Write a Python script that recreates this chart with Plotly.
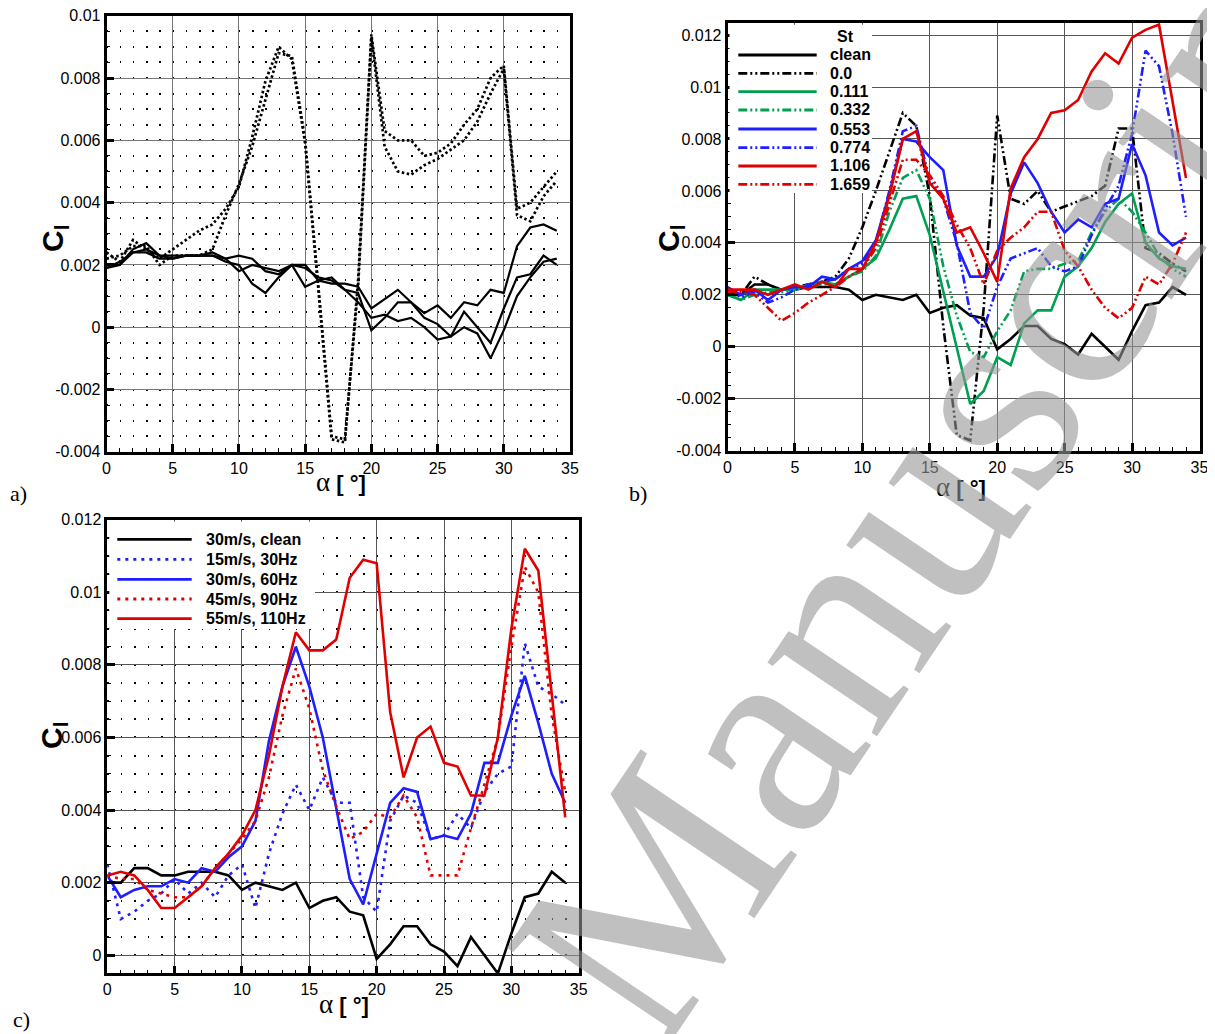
import plotly.graph_objects as go

# ---------------- data ----------------
alpha = [0, 1, 2, 3, 4, 5, 6, 7, 8, 9, 10, 11, 12, 13, 14, 15, 16, 17, 18, 19,
         20, 21, 22, 23, 24, 25, 26, 27, 28, 29, 30, 31, 32, 33, 34]

x_tick_vals = [0, 5, 10, 15, 20, 25, 30, 35]
x_tick_text = ["0", "5", "10", "15", "20", "25", "30", "35"]
ya_tick_vals = [-0.004, -0.002, 0, 0.002, 0.004, 0.006, 0.008, 0.01]
ya_tick_text = ["-0.004", "-0.002", "0", "0.002", "0.004", "0.006", "0.008", "0.01"]
yb_tick_vals = [-0.004, -0.002, 0, 0.002, 0.004, 0.006, 0.008, 0.01, 0.012]
yb_tick_text = ["-0.004", "-0.002", "0", "0.002", "0.004", "0.006", "0.008", "0.01", "0.012"]
yc_tick_vals = [0, 0.002, 0.004, 0.006, 0.008, 0.01, 0.012]
yc_tick_text = ["0", "0.002", "0.004", "0.006", "0.008", "0.01", "0.012"]

# clean airfoil, 30 m/s (same curve in a, b, c)
cl_clean = [0.0020, 0.0020, 0.0024, 0.0024, 0.0022, 0.0022, 0.0023, 0.0023, 0.0023, 0.0022,
            0.0018, 0.0020, 0.0019, 0.0018, 0.0020, 0.0013, 0.0015, 0.0016, 0.0012, 0.0011,
            -0.0001, 0.0003, 0.0008, 0.0008, 0.0003, 0.0001, -0.0003, 0.0005, 0.0000, -0.0005,
            0.0006, 0.0016, 0.0017, 0.0023, 0.0020]

# panel a: other clean runs (solid) and actuated runs (dotted)
a_clean_A = [0.0019, 0.0020, 0.0025, 0.0027, 0.0023, 0.0022, 0.0023, 0.0023, 0.0024, 0.0022,
             0.0023, 0.0022, 0.0018, 0.0017, 0.0020, 0.0020, 0.0015, 0.0014, 0.0014, 0.0013,
             0.0006, 0.0009, 0.0012, 0.0008, 0.00045, 0.0007, 0.0003, 0.0008, 0.0007, 0.0012,
             0.0011, 0.0026, 0.0032, 0.0033, 0.0031]
a_clean_C = [0.0019, 0.0021, 0.0024, 0.0025, 0.0023, 0.0023, 0.0023, 0.0023, 0.0023, 0.0021,
             0.0020, 0.0014, 0.0011, 0.0016, 0.0020, 0.0019, 0.0016, 0.0015, 0.0012, 0.0008,
             0.0003, 0.0004, 0.0002, 0.0003, 0.0000, -0.0004, -0.0003, 0.0000, -0.0002, -0.0010,
             -0.0001, 0.0010, 0.0016, 0.0021, 0.0022]
a_act_P = [0.0024, 0.0021, 0.0028, 0.0025, 0.0022, 0.0025, 0.0028, 0.0031, 0.0033, 0.0038,
           0.0045, 0.0061, 0.0079, 0.0090, 0.0086, 0.0059, 0.0012, -0.0036, -0.0037, 0.0015,
           0.0094, 0.0063, 0.0060, 0.0060, 0.0055, 0.0056, 0.0059, 0.0065, 0.0070, 0.0080,
           0.0084, 0.0038, 0.0040, 0.0045, 0.0050]
a_act_Q = [0.0022, 0.0023, 0.0026, 0.0026, 0.0020, 0.0023, 0.0023, 0.0023, 0.0025, 0.0036,
           0.0046, 0.0058, 0.0073, 0.0088, 0.0087, 0.0060, 0.0013, -0.0035, -0.0036, 0.0013,
           0.0093, 0.0058, 0.0050, 0.0049, 0.0052, 0.0054, 0.0057, 0.0060, 0.0066, 0.0075,
           0.0083, 0.0036, 0.0034, 0.0042, 0.0047]

# panel b: Strouhal number series
st_labels = ["clean", "0.0", "0.111", "0.332", "0.553", "0.774", "1.106", "1.659"]
b_st_0000 = [0.0021, 0.0020, 0.0027, 0.0024, 0.0022, 0.0023, 0.0024, 0.0025, 0.0027, 0.0034,
             0.0046, 0.0060, 0.0075, 0.0090, 0.0085, 0.0058, 0.0008, -0.0034, -0.0036, 0.0015,
             0.0089, 0.0057, 0.0055, 0.0060, 0.0052, 0.0054, 0.0056, 0.0058, 0.0062, 0.0084,
             0.0084, 0.0038, 0.0036, 0.0032, 0.0029]
b_st_0111 = [0.0020, 0.0018, 0.0022, 0.0022, 0.0022, 0.0022, 0.0024, 0.0025, 0.0024, 0.0027,
             0.0030, 0.0034, 0.0045, 0.0057, 0.0058, 0.0043, 0.0021, 0.0000, -0.0022, -0.0017,
             -0.0004, -0.0007, 0.0009, 0.0014, 0.0014, 0.0027, 0.0031, 0.0038, 0.0048, 0.0055,
             0.0059, 0.0040, 0.0034, 0.0031, 0.0030]
b_st_0332 = [0.0020, 0.0018, 0.0020, 0.0021, 0.0021, 0.0022, 0.0023, 0.0024, 0.0024, 0.0027,
             0.0029, 0.0035, 0.0052, 0.0065, 0.0068, 0.0057, 0.0031, 0.0012, -0.0002, -0.0004,
             0.0006, 0.0014, 0.0029, 0.0030, 0.0030, 0.0032, 0.0033, 0.0044, 0.0052, 0.0057,
             0.0052, 0.0044, 0.0035, 0.0030, 0.0027]
b_st_0553 = [0.0023, 0.0020, 0.0022, 0.0018, 0.0022, 0.0023, 0.0023, 0.0027, 0.0026, 0.0030,
             0.0033, 0.0041, 0.0059, 0.0080, 0.0079, 0.0073, 0.0068, 0.0039, 0.0027, 0.0027,
             0.0035, 0.0059, 0.0071, 0.0063, 0.0052, 0.0044, 0.0049, 0.0046, 0.0055, 0.0057,
             0.0078, 0.0066, 0.0044, 0.0039, 0.0042]
b_st_0774 = [0.0022, 0.0019, 0.0021, 0.0017, 0.0019, 0.0022, 0.0024, 0.0025, 0.0026, 0.0030,
             0.0032, 0.0040, 0.0060, 0.0083, 0.0085, 0.0064, 0.0057, 0.0040, 0.0013, 0.0007,
             0.0023, 0.0034, 0.0036, 0.0038, 0.0031, 0.0029, 0.0031, 0.0043, 0.0053, 0.0062,
             0.0082, 0.0114, 0.0108, 0.0082, 0.0050]
b_st_1106 = [0.0022, 0.0022, 0.0022, 0.0020, 0.0022, 0.0024, 0.0022, 0.0025, 0.0023, 0.0030,
             0.0030, 0.0040, 0.0058, 0.0080, 0.0083, 0.0063, 0.0057, 0.0044, 0.0046, 0.0036,
             0.0025, 0.0061, 0.0073, 0.0080, 0.0090, 0.0091, 0.0095, 0.0106, 0.0113, 0.0109,
             0.0119, 0.0122, 0.0124, 0.0095, 0.0065]
b_st_1659 = [0.0021, 0.0021, 0.0020, 0.0015, 0.0010, 0.0013, 0.0017, 0.0020, 0.0023, 0.0027,
             0.0030, 0.0038, 0.0055, 0.0072, 0.0072, 0.0066, 0.0058, 0.0047, 0.0038, 0.0024,
             0.0037, 0.0042, 0.0046, 0.0052, 0.0052, 0.0037, 0.0031, 0.0022, 0.0015, 0.0011,
             0.0015, 0.0027, 0.0024, 0.0032, 0.0044]

# panel c: free-stream speed / actuation frequency
c_labels = ["30m/s, clean", "15m/s, 30Hz", "30m/s, 60Hz", "45m/s, 90Hz", "55m/s, 110Hz"]
c_15_30 = [0.0025, 0.0010, 0.0012, 0.0015, 0.0017, 0.0021, 0.0017, 0.0020, 0.0016, 0.0022,
           0.0025, 0.0013, 0.0028, 0.0039, 0.0047, 0.0040, 0.0049, 0.0042, 0.0042, 0.0016,
           0.0012, 0.0037, 0.0044, 0.0042, 0.0032, 0.0033, 0.0039, 0.0035, 0.0045, 0.0050,
           0.0052, 0.0086, 0.0074, 0.0072, 0.0069]
c_30_60 = [0.0022, 0.0016, 0.0018, 0.0019, 0.0019, 0.0021, 0.0020, 0.0024, 0.0023, 0.0027,
           0.0030, 0.0037, 0.0059, 0.0074, 0.0085, 0.0074, 0.0060, 0.0040, 0.0021, 0.0014,
           0.0028, 0.0042, 0.0046, 0.0045, 0.0032, 0.0033, 0.0032, 0.0039, 0.0053, 0.0053,
           0.0066, 0.0077, 0.0064, 0.0050, 0.0042]
c_45_90 = [0.0022, 0.0021, 0.0021, 0.0018, 0.0017, 0.0016, 0.0016, 0.0019, 0.0024, 0.0028,
           0.0032, 0.0037, 0.0049, 0.0066, 0.0079, 0.0068, 0.0051, 0.0041, 0.0032, 0.0034,
           0.0039, 0.0038, 0.0044, 0.0038, 0.0022, 0.0022, 0.0022, 0.0035, 0.0047, 0.0060,
           0.0085, 0.0107, 0.0100, 0.0066, 0.0045]
c_55_110 = [0.0022, 0.0023, 0.0022, 0.0018, 0.0013, 0.0013, 0.0016, 0.0019, 0.0024, 0.0028,
            0.0033, 0.0040, 0.0055, 0.0074, 0.0089, 0.0084, 0.0084, 0.0087, 0.0104, 0.0109,
            0.0108, 0.0067, 0.0049, 0.0060, 0.0063, 0.0053, 0.0052, 0.0044, 0.0044, 0.0060,
            0.0090, 0.0112, 0.0106, 0.0072, 0.0038]

# ---------------- layout helpers ----------------
W, H = 1215, 1034
OFF = 8  # the page body adds an 8px margin around the figure


def fx(p):
    return (p - OFF) / W


def fy(p):
    return 1 - (p - OFF) / H


BLACK = "black"
GREEN = "rgb(0,160,80)"
BLUE = "rgb(30,30,255)"
RED = "rgb(225,0,0)"
DDOT = "9px,3px,2px,3px,2px,3px"
TICKFONT = dict(family="Liberation Sans, Arial, sans-serif", size=16, color="black")

fig = go.Figure()

# panel a
for ys in [a_clean_A, cl_clean, a_clean_C]:
    fig.add_trace(go.Scatter(x=alpha, y=ys, mode="lines", xaxis="x", yaxis="y",
                             line=dict(color=BLACK, width=2.2)))
for ys in [a_act_P, a_act_Q]:
    fig.add_trace(go.Scatter(x=alpha, y=ys, mode="lines", xaxis="x", yaxis="y",
                             line=dict(color=BLACK, width=2.7, dash="2.5px,2.5px")))

# panel b
b_series = [cl_clean, b_st_0000, b_st_0111, b_st_0332, b_st_0553, b_st_0774, b_st_1106, b_st_1659]
b_styles = [(BLACK, "solid"), (BLACK, DDOT), (GREEN, "solid"), (GREEN, DDOT),
            (BLUE, "solid"), (BLUE, DDOT), (RED, "solid"), (RED, DDOT)]
for ys, (col, dsh) in zip(b_series, b_styles):
    fig.add_trace(go.Scatter(x=alpha, y=ys, mode="lines", xaxis="x2", yaxis="y2",
                             line=dict(color=col, width=2.6, dash=dsh)))

# panel c
c_series = [cl_clean, c_15_30, c_30_60, c_45_90, c_55_110]
c_styles = [(BLACK, "solid"), (BLUE, "3px,5px"), (BLUE, "solid"), (RED, "3px,5px"), (RED, "solid")]
for ys, (col, dsh) in zip(c_series, c_styles):
    fig.add_trace(go.Scatter(x=alpha, y=ys, mode="lines", xaxis="x3", yaxis="y3",
                             line=dict(color=col, width=2.6, dash=dsh)))


def xaxis(dom, anchor, gridcolor):
    return dict(domain=dom, anchor=anchor, range=[0, 35], tickmode="array",
                tickvals=x_tick_vals, ticktext=x_tick_text, ticks="inside", ticklen=8,
                tickwidth=2.6, tickcolor="black", showline=True, linecolor="black",
                linewidth=2.6, mirror=True, showgrid=True, gridcolor=gridcolor, gridwidth=1,
                zeroline=False, tickfont=TICKFONT, fixedrange=True, automargin=False,
                ticklabeloverflow="allow",
                minor=dict(tickmode="linear", tick0=0, dtick=1, ticks="inside", ticklen=4,
                           tickwidth=1, tickcolor="black", showgrid=False))


def yaxis(dom, anchor, rng, tv, tt, gridcolor, dotdash=None):
    minor = dict(tickmode="linear", tick0=0, dtick=0.0005, ticks="inside", ticklen=4,
                 tickwidth=1, tickcolor="black", showgrid=False)
    if dotdash:
        minor.update(showgrid=True, gridcolor="black", gridwidth=1.5, griddash=dotdash)
    return dict(domain=dom, anchor=anchor, range=rng, tickmode="array", tickvals=tv,
                ticktext=tt, ticks="inside", ticklen=8, tickwidth=2.6, tickcolor="black",
                showline=True, linecolor="black", linewidth=2.6, mirror=True,
                showgrid=True, gridcolor=gridcolor, gridwidth=1, zeroline=False,
                tickfont=TICKFONT, fixedrange=True, automargin=False,
                ticklabeloverflow="allow", minor=minor)


A_X = (106.5, 570.0)
A_Y = (15.7, 451.8)
B_X = (727.5, 1199.5)
B_Y = (22.7, 450.7)
C_X = (107.3, 578.7)
C_Y = (519.7, 973.4)

fig.update_layout(
    width=W, height=H, autosize=False,
    margin=dict(l=0, r=0, t=0, b=0, pad=0, autoexpand=False),
    paper_bgcolor="white", plot_bgcolor="white", showlegend=False,
    xaxis=xaxis([fx(A_X[0]), fx(A_X[1])], "y", "#777777"),
    yaxis=yaxis([fy(A_Y[1]), fy(A_Y[0])], "x", [-0.004, 0.01], ya_tick_vals, ya_tick_text,
                "#777777", "1.5px,11.74px"),
    xaxis2=xaxis([fx(B_X[0]), fx(B_X[1])], "y2", "#555555"),
    yaxis2=yaxis([fy(B_Y[1]), fy(B_Y[0])], "x2", [-0.004, 0.012475], yb_tick_vals,
                 yb_tick_text, "#555555"),
    xaxis3=xaxis([fx(C_X[0]), fx(C_X[1])], "y3", "#555555"),
    yaxis3=yaxis([fy(C_Y[1]), fy(C_Y[0])], "x3", [-0.0005, 0.012], yc_tick_vals, yc_tick_text,
                 "#555555", "1.5px,11.97px"),
)

shapes = []
annotations = []

# ---------- legend b (drawn manually, Tecplot style) ----------
shapes.append(dict(type="rect", xref="paper", yref="paper", layer="above",
                   x0=fx(B_X[0] + 2), x1=fx(872), y0=fy(193), y1=fy(B_Y[0] + 2),
                   fillcolor="white", line=dict(width=0)))
b_rows = [55, 73.3, 91.7, 110, 129, 147.7, 166, 184.3]
for lab, (col, dsh), ry in zip(st_labels, b_styles, b_rows):
    shapes.append(dict(type="line", xref="paper", yref="paper", layer="above",
                       x0=fx(738.3), x1=fx(816.7), y0=fy(ry), y1=fy(ry),
                       line=dict(color=col, width=2.8, dash=dsh)))
    annotations.append(dict(text="<b>" + lab + "</b>", x=fx(828.3), y=fy(ry), xref="paper",
                            yref="paper", xanchor="left", yanchor="middle", showarrow=False,
                            font=dict(family="Liberation Sans, Arial", size=16, color="black")))
annotations.append(dict(text="<b>St</b>", x=fx(846), y=fy(36.7), xref="paper", yref="paper",
                        xanchor="center", yanchor="middle", showarrow=False,
                        font=dict(family="Liberation Sans, Arial", size=16, color="black")))

# ---------- legend c ----------
shapes.append(dict(type="rect", xref="paper", yref="paper", layer="above",
                   x0=fx(C_X[0] + 2), x1=fx(315), y0=fy(629), y1=fy(C_Y[0] + 2),
                   fillcolor="white", line=dict(width=0)))
c_rows = [539.3, 559.3, 579.3, 599, 618.7]
for lab, (col, dsh), ry in zip(c_labels, c_styles, c_rows):
    shapes.append(dict(type="line", xref="paper", yref="paper", layer="above",
                       x0=fx(117.3), x1=fx(191.7), y0=fy(ry), y1=fy(ry),
                       line=dict(color=col, width=2.8, dash=dsh)))
    annotations.append(dict(text="<b>" + lab + "</b>", x=fx(204), y=fy(ry), xref="paper",
                            yref="paper", xanchor="left", yanchor="middle", showarrow=False,
                            font=dict(family="Liberation Sans, Arial", size=16, color="black")))


# ---------- axis titles and panel labels ----------
def ann(text, px, py, size, family="Liberation Sans, Arial", angle=0):
    return dict(text=text, x=fx(px), y=fy(py), xref="paper", yref="paper", showarrow=False,
                xanchor="center", yanchor="middle", textangle=angle,
                font=dict(family=family, size=size, color="black"))


alpha_title = ('<span style="font-family:Liberation Serif;font-size:27px">α</span>'
               '<b> [ °]</b>')
cl_title = "<b>C</b><sub><b>l</b></sub>"
for (px, py) in [(341, 482), (961, 487), (344, 1004)]:
    annotations.append(ann(alpha_title, px, py, 22))
for (px, py) in [(55, 238), (671, 238), (53, 735)]:
    annotations.append(ann(cl_title, px, py, 30, angle=-90))
for txt, (px, py) in zip(["a)", "b)", "c)"], [(18, 493), (638, 493), (21, 1019)]):
    annotations.append(ann(txt, px, py, 22, family="Liberation Serif, Times New Roman"))

# ---------- watermark ----------
annotations.append(dict(text="Manuscript", x=fx(945), y=fy(462), xref="paper", yref="paper",
                        showarrow=False, xanchor="center", yanchor="middle", textangle=-56,
                        font=dict(family="Liberation Serif, Times New Roman", size=288,
                                  color="rgba(150,150,150,0.6)")))

fig.update_layout(shapes=shapes, annotations=annotations)
fig.write_html("out.html")
